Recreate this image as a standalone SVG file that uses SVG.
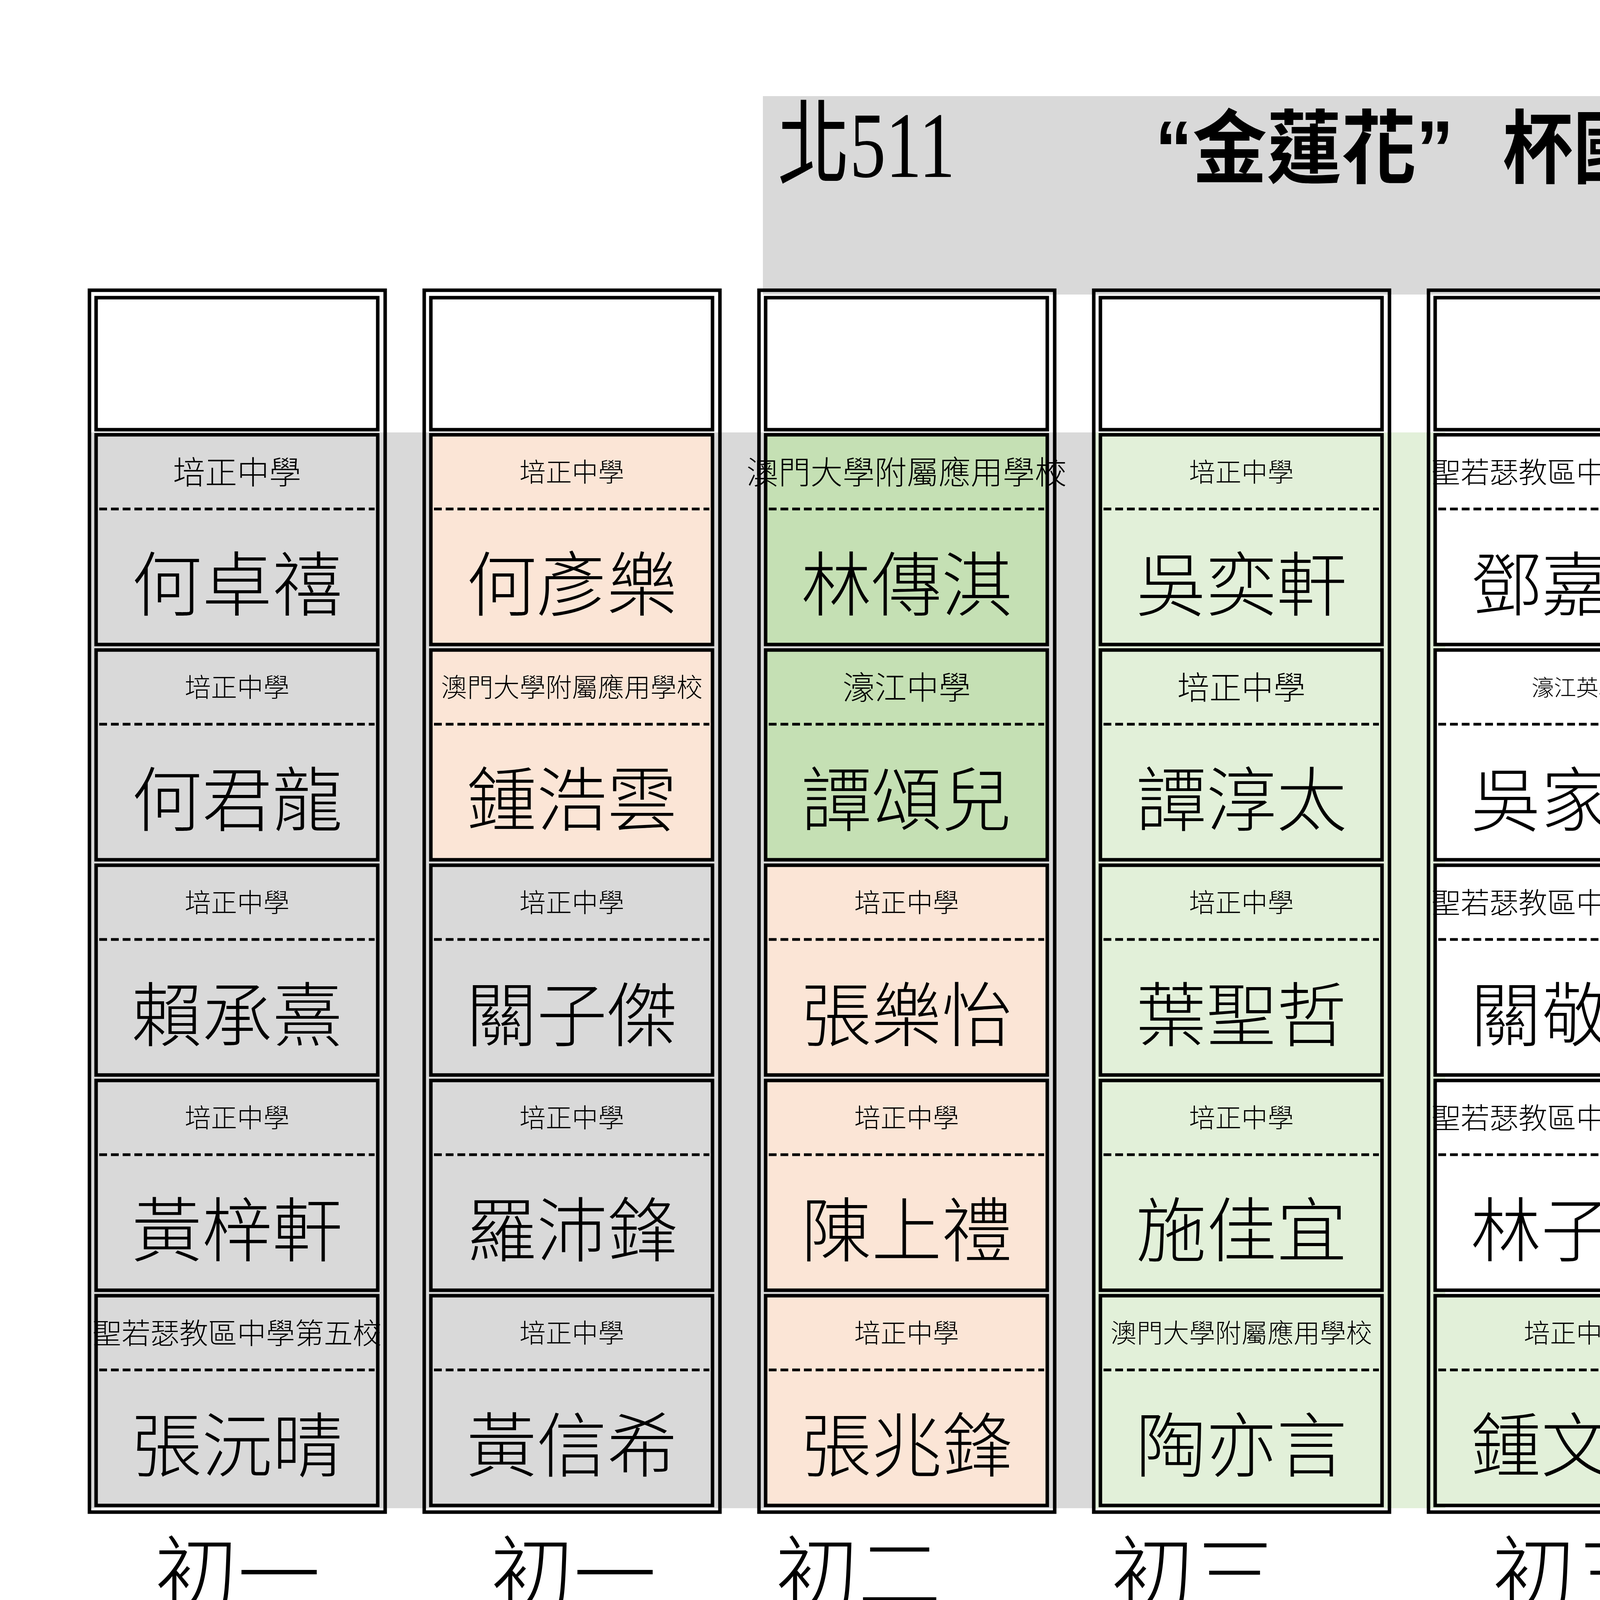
<svg xmlns="http://www.w3.org/2000/svg" width="7016" height="4961" viewBox="0 0 7016 4961">
<style>
.frame{fill:none;stroke:#000;stroke-width:9}
.cell{stroke:#000;stroke-width:9}
.w{fill:#fff}.g{fill:#D9D9D9}.p{fill:#FBE5D6}.gr{fill:#C5E0B4}.lg{fill:#E2F0D9}
.dash{stroke:#000;stroke-width:7;stroke-dasharray:20 10}
text{font-family:"Noto Sans CJK TC","Noto Sans CJK SC",sans-serif;font-weight:300;text-anchor:middle;fill:#000}
.nm{font-size:180px}
.lbl{font-size:212px}
.tb{font-weight:bold;font-size:205px;text-anchor:start}
</style>
<rect x="1953" y="246" width="3308" height="508" fill="#D9D9D9"/>
<rect x="229" y="1107" width="2571" height="2754" fill="#D9D9D9"/>
<rect x="2800" y="1107" width="900" height="2754" fill="#E2F0D9"/>
<g id="title">
<text x="1991" y="453" style="font-family:'Liberation Serif','Noto Sans CJK TC',serif;font-weight:normal;font-size:240px;text-anchor:start" textLength="454" lengthAdjust="spacingAndGlyphs">北511</text>
<text class="tb" x="2957" y="452" style="font-family:'Liberation Sans','Noto Sans CJK TC',sans-serif" textLength="764" lengthAdjust="spacingAndGlyphs">“金蓮花”</text>
<text class="tb" x="3847" y="452" textLength="720" lengthAdjust="spacingAndGlyphs">杯國際數</text>
<text class="tb" x="4595" y="452" textLength="1556" lengthAdjust="spacingAndGlyphs">初一級中學各年級</text>
</g>
<defs>
<g id="empty"><rect class="cell w" x="17" y="19" width="721" height="338"/></g>
</defs>
<g id="col1"><rect class="frame" x="229" y="743" width="757" height="3128"/><use href="#empty" x="229" y="743"/>
<rect class="cell g" x="246" y="1113" width="721" height="537"/><line class="dash" x1="254" y1="1303" x2="959" y2="1303"/><text x="607" y="1239" font-size="82">培正中學</text><text class="nm" x="607" y="1562">何卓禧</text>
<rect class="cell g" x="246" y="1664" width="721" height="537"/><line class="dash" x1="254" y1="1854" x2="959" y2="1854"/><text x="607" y="1784" font-size="67">培正中學</text><text class="nm" x="607" y="2113">何君龍</text>
<rect class="cell g" x="246" y="2215" width="721" height="537"/><line class="dash" x1="254" y1="2405" x2="959" y2="2405"/><text x="607" y="2335" font-size="67">培正中學</text><text class="nm" x="607" y="2664">賴承熹</text>
<rect class="cell g" x="246" y="2766" width="721" height="537"/><line class="dash" x1="254" y1="2956" x2="959" y2="2956"/><text x="607" y="2886" font-size="67">培正中學</text><text class="nm" x="607" y="3215">黃梓軒</text>
<rect class="cell g" x="246" y="3317" width="721" height="537"/><line class="dash" x1="254" y1="3507" x2="959" y2="3507"/><text x="607" y="3440" font-size="74">聖若瑟教區中學第五校</text><text class="nm" x="607" y="3766">張沅晴</text>
</g>
<g id="col2"><rect class="frame" x="1086" y="743" width="757" height="3128"/><use href="#empty" x="1086" y="743"/>
<rect class="cell p" x="1103" y="1113" width="721" height="537"/><line class="dash" x1="1111" y1="1303" x2="1816" y2="1303"/><text x="1464" y="1233" font-size="67">培正中學</text><text class="nm" x="1464" y="1562">何彥樂</text>
<rect class="cell p" x="1103" y="1664" width="721" height="537"/><line class="dash" x1="1111" y1="1854" x2="1816" y2="1854"/><text x="1464" y="1784" font-size="67">澳門大學附屬應用學校</text><text class="nm" x="1464" y="2113">鍾浩雲</text>
<rect class="cell g" x="1103" y="2215" width="721" height="537"/><line class="dash" x1="1111" y1="2405" x2="1816" y2="2405"/><text x="1464" y="2335" font-size="67">培正中學</text><text class="nm" x="1464" y="2664">關子傑</text>
<rect class="cell g" x="1103" y="2766" width="721" height="537"/><line class="dash" x1="1111" y1="2956" x2="1816" y2="2956"/><text x="1464" y="2886" font-size="67">培正中學</text><text class="nm" x="1464" y="3215">羅沛鋒</text>
<rect class="cell g" x="1103" y="3317" width="721" height="537"/><line class="dash" x1="1111" y1="3507" x2="1816" y2="3507"/><text x="1464" y="3437" font-size="67">培正中學</text><text class="nm" x="1464" y="3766">黃信希</text>
</g>
<g id="col3"><rect class="frame" x="1943" y="743" width="757" height="3128"/><use href="#empty" x="1943" y="743"/>
<rect class="cell gr" x="1960" y="1113" width="721" height="537"/><line class="dash" x1="1968" y1="1303" x2="2673" y2="1303"/><text x="2321" y="1239" font-size="82">澳門大學附屬應用學校</text><text class="nm" x="2321" y="1562">林傳淇</text>
<rect class="cell gr" x="1960" y="1664" width="721" height="537"/><line class="dash" x1="1968" y1="1854" x2="2673" y2="1854"/><text x="2321" y="1790" font-size="82">濠江中學</text><text class="nm" x="2321" y="2113">譚頌兒</text>
<rect class="cell p" x="1960" y="2215" width="721" height="537"/><line class="dash" x1="1968" y1="2405" x2="2673" y2="2405"/><text x="2321" y="2335" font-size="67">培正中學</text><text class="nm" x="2321" y="2664">張樂怡</text>
<rect class="cell p" x="1960" y="2766" width="721" height="537"/><line class="dash" x1="1968" y1="2956" x2="2673" y2="2956"/><text x="2321" y="2886" font-size="67">培正中學</text><text class="nm" x="2321" y="3215">陳上禮</text>
<rect class="cell p" x="1960" y="3317" width="721" height="537"/><line class="dash" x1="1968" y1="3507" x2="2673" y2="3507"/><text x="2321" y="3437" font-size="67">培正中學</text><text class="nm" x="2321" y="3766">張兆鋒</text>
</g>
<g id="col4"><rect class="frame" x="2800" y="743" width="757" height="3128"/><use href="#empty" x="2800" y="743"/>
<rect class="cell lg" x="2817" y="1113" width="721" height="537"/><line class="dash" x1="2825" y1="1303" x2="3530" y2="1303"/><text x="3178" y="1233" font-size="67">培正中學</text><text class="nm" x="3178" y="1562">吳奕軒</text>
<rect class="cell lg" x="2817" y="1664" width="721" height="537"/><line class="dash" x1="2825" y1="1854" x2="3530" y2="1854"/><text x="3178" y="1790" font-size="82">培正中學</text><text class="nm" x="3178" y="2113">譚淳太</text>
<rect class="cell lg" x="2817" y="2215" width="721" height="537"/><line class="dash" x1="2825" y1="2405" x2="3530" y2="2405"/><text x="3178" y="2335" font-size="67">培正中學</text><text class="nm" x="3178" y="2664">葉聖哲</text>
<rect class="cell lg" x="2817" y="2766" width="721" height="537"/><line class="dash" x1="2825" y1="2956" x2="3530" y2="2956"/><text x="3178" y="2886" font-size="67">培正中學</text><text class="nm" x="3178" y="3215">施佳宜</text>
<rect class="cell lg" x="2817" y="3317" width="721" height="537"/><line class="dash" x1="2825" y1="3507" x2="3530" y2="3507"/><text x="3178" y="3437" font-size="67">澳門大學附屬應用學校</text><text class="nm" x="3178" y="3766">陶亦言</text>
</g>
<g id="col5"><rect class="frame" x="3657" y="743" width="757" height="3128"/><use href="#empty" x="3657" y="743"/>
<rect class="cell w" x="3674" y="1113" width="721" height="537"/><line class="dash" x1="3682" y1="1303" x2="4387" y2="1303"/><text x="4035" y="1236" font-size="74">聖若瑟教區中學第五校</text><text class="nm" x="4035" y="1562">鄧嘉偉</text>
<rect class="cell w" x="3674" y="1664" width="721" height="537"/><line class="dash" x1="3682" y1="1854" x2="4387" y2="1854"/><text x="4035" y="1781" font-size="57">濠江英才</text><text class="nm" x="4035" y="2113">吳家熙</text>
<rect class="cell w" x="3674" y="2215" width="721" height="537"/><line class="dash" x1="3682" y1="2405" x2="4387" y2="2405"/><text x="4035" y="2338" font-size="74">聖若瑟教區中學第五校</text><text class="nm" x="4035" y="2664">關敬鵬</text>
<rect class="cell w" x="3674" y="2766" width="721" height="537"/><line class="dash" x1="3682" y1="2956" x2="4387" y2="2956"/><text x="4035" y="2889" font-size="74">聖若瑟教區中學第六校</text><text class="nm" x="4035" y="3215">林子峰</text>
<rect class="cell lg" x="3674" y="3317" width="721" height="537"/><line class="dash" x1="3682" y1="3507" x2="4387" y2="3507"/><text x="4035" y="3437" font-size="67">培正中學</text><text class="nm" x="4035" y="3766">鍾文皓</text>
</g>
<g id="col6"><line class="frame" x1="4519" y1="495" x2="4519" y2="3871"/><line class="frame" x1="5267" y1="495" x2="5267" y2="3871"/><line class="frame" x1="4515" y1="3867" x2="5271" y2="3867"/><line class="dash" x1="4515" y1="495" x2="5271" y2="495"/>
<path class="cell w" d="M4531 500V747H5252V500"/><text x="4892" y="663" font-size="82">培正中學</text>
<rect class="cell w" x="4531" y="760" width="721" height="339"/><text class="nm" x="4892" y="1014">陳柏諭</text>
<rect class="cell w" x="4531" y="1113" width="721" height="537"/><line class="dash" x1="4539" y1="1303" x2="5244" y2="1303"/><text x="4892" y="1230" font-size="57">教業中學</text><text class="nm" x="4892" y="1562">施慧聰</text>
<rect class="cell w" x="4531" y="1664" width="721" height="537"/><line class="dash" x1="4539" y1="1854" x2="5244" y2="1854"/><text x="4892" y="1781" font-size="57">教業中學</text><text class="nm" x="4892" y="2113">梁家達</text>
<rect class="cell w" x="4531" y="2215" width="721" height="537"/><line class="dash" x1="4539" y1="2405" x2="5244" y2="2405"/><text x="4892" y="2340" font-size="80">教業中學</text><text class="nm" x="4892" y="2664">鄭嘉璇</text>
<rect class="cell w" x="4531" y="2766" width="721" height="537"/><line class="dash" x1="4539" y1="2956" x2="5244" y2="2956"/><text x="4892" y="2880" font-size="50">濠江英才</text><text class="nm" x="4892" y="3215">郁俊源</text>
<rect class="cell w" x="4531" y="3317" width="721" height="537"/><line class="dash" x1="4539" y1="3507" x2="5244" y2="3507"/><text x="4892" y="3440" font-size="74">聖若瑟教區中學第六校</text><text class="nm" x="4892" y="3766">曾日楹</text>
</g>
<g id="col7"><line class="frame" x1="5376" y1="495" x2="5376" y2="3871"/><line class="frame" x1="6124" y1="495" x2="6124" y2="3871"/><line class="frame" x1="5372" y1="3867" x2="6128" y2="3867"/><line class="dash" x1="5372" y1="495" x2="6128" y2="495"/>
<path class="cell w" d="M5388 500V747H6109V500"/><text x="5749" y="663" font-size="82">教業中學</text>
<rect class="cell w" x="5388" y="760" width="721" height="339"/><text class="nm" x="5749" y="1014">蔡垂澤</text>
<rect class="cell w" x="5388" y="1113" width="721" height="537"/><line class="dash" x1="5396" y1="1303" x2="6101" y2="1303"/><text x="5749" y="1239" font-size="82">培正中學</text><text class="nm" x="5749" y="1562">劉熙正</text>
<rect class="cell w" x="5388" y="1664" width="721" height="537"/><line class="dash" x1="5396" y1="1854" x2="6101" y2="1854"/><text x="5749" y="1790" font-size="82">培正中學</text><text class="nm" x="5749" y="2113">袁皓哲</text>
<rect class="cell w" x="5388" y="2215" width="721" height="537"/><line class="dash" x1="5396" y1="2405" x2="6101" y2="2405"/><text x="5749" y="2341" font-size="82">培正中學</text><text class="nm" x="5749" y="2664">鄺子軒</text>
<rect class="cell w" x="5388" y="2766" width="721" height="537"/><line class="dash" x1="5396" y1="2956" x2="6101" y2="2956"/><text x="5749" y="2880" font-size="50">培正中學</text><text class="nm" x="5749" y="3215">潘子健</text>
<rect class="cell w" x="5388" y="3317" width="721" height="537"/><line class="dash" x1="5396" y1="3507" x2="6101" y2="3507"/><text x="5749" y="3437" font-size="67">培正中學</text><text class="nm" x="5749" y="3766">黃寶穎</text>
</g>
<g id="labels">
<text class="lbl" x="608" y="4108">初一</text>
<text class="lbl" x="1468" y="4108">初一</text>
<text class="lbl" x="2197" y="4108">初二</text>
<text class="lbl" x="3056" y="4108">初三</text>
<text class="lbl" x="4032" y="4108">初三</text>
<text class="lbl" x="4891" y="4108">高中</text>
<text class="lbl" x="5620" y="4108">高中</text>
</g>
<g id="door"><rect x="241" y="4161" width="734" height="300" fill="#fff" stroke="#000" stroke-width="22"/><text x="608" y="4396" font-size="195">門口</text></g>
<g id="podium"><rect x="1955" y="4160" width="1591" height="301" fill="#fff" stroke="#000" stroke-width="15"/><text x="2755" y="4400" font-size="215" xml:space="preserve">教 壇</text></g>
</svg>
